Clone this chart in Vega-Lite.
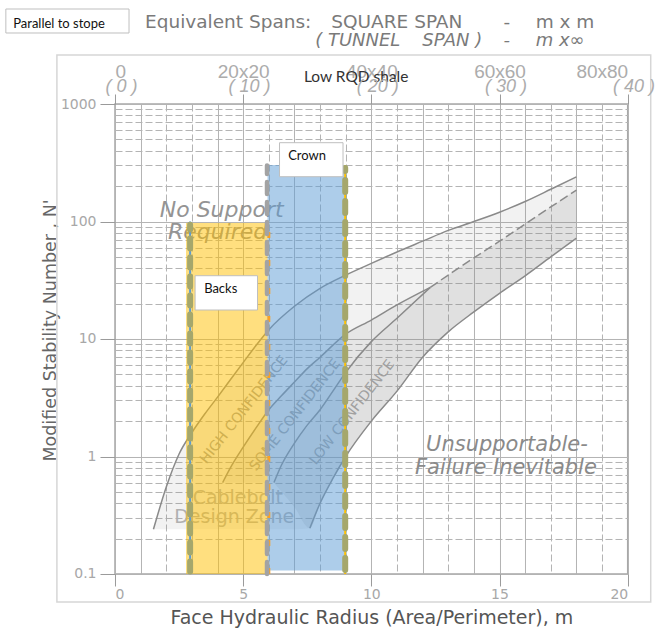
{
  "$schema": "https://vega.github.io/schema/vega-lite/v6.json",
  "width": 512.7,
  "height": 470,
  "autosize": {"type": "none"},
  "padding": {"left": 115, "top": 104, "right": 30, "bottom": 63},
  "background": "white",
  "config": {"view": {"stroke": "#a8a8a8", "strokeWidth": 1.5}, "font": "Liberation Sans"},
  "encoding": {
    "x": {"field": "hr", "type": "quantitative", "scale": {"domain": [0, 20], "nice": false, "zero": false}, "axis": null},
    "y": {"field": "n", "type": "quantitative", "scale": {"type": "log", "domain": [0.1, 1000], "nice": false}, "axis": null}
  },
  "resolve": {"axis": {"x": "independent", "y": "independent"}},
  "layer": [
    {
      "data": {"values": [{"hr": -2.266, "hr2": 20.898, "n": 2612, "n2": 0.0578}]},
      "mark": {"type": "rect", "fillOpacity": 0, "stroke": "#d6d6d6", "strokeWidth": 1.5},
      "encoding": {"x2": {"field": "hr2"}, "y2": {"field": "n2"}}
    },
    {
      "data": {"values": [
        {"hr": 1.5, "n": 0.24, "n2": 0.24}, {"hr": 2, "n": 0.55, "n2": 0.24}, {"hr": 2.5, "n": 1.05, "n2": 0.24},
        {"hr": 3, "n": 1.6, "n2": 0.24}, {"hr": 3.5, "n": 2.3, "n2": 0.24}, {"hr": 4, "n": 3.2, "n2": 0.24},
        {"hr": 4.5, "n": 4.5, "n2": 0.24}, {"hr": 5, "n": 6.3, "n2": 0.24}, {"hr": 5.5, "n": 8.8, "n2": 0.24},
        {"hr": 6, "n": 12, "n2": 0.24}, {"hr": 7, "n": 19, "n2": 0.24}, {"hr": 7.6, "n": 23.5, "n2": 0.245},
        {"hr": 8, "n": 27, "n2": 0.4}, {"hr": 8.5, "n": 31, "n2": 0.65}, {"hr": 9, "n": 35, "n2": 1.0},
        {"hr": 10, "n": 44, "n2": 2.0}, {"hr": 11, "n": 55, "n2": 3.6}, {"hr": 12, "n": 68, "n2": 7},
        {"hr": 13, "n": 84, "n2": 11.5}, {"hr": 14, "n": 100, "n2": 17}, {"hr": 15, "n": 120, "n2": 24.5},
        {"hr": 16, "n": 148, "n2": 34.5}, {"hr": 17, "n": 188, "n2": 50}, {"hr": 18, "n": 240, "n2": 72}
      ]},
      "mark": {"type": "area", "color": "#808080", "opacity": 0.1, "interpolate": "monotone"},
      "encoding": {
        "x": {"field": "hr", "type": "quantitative", "scale": {"domain": [0, 20], "nice": false, "zero": false},
          "axis": {
            "orient": "bottom",
            "values": [0, 1, 2, 3, 4, 5, 6, 7, 8, 9, 10, 11, 12, 13, 14, 15, 16, 17, 18, 19, 20],
            "grid": true, "gridColor": "#b4b4b4", "gridWidth": 1,
            "gridDash": {"condition": {"test": "indexof([0,1,4,5,7,10,12,14,15,16,18,20], datum.value) >= 0", "value": []}, "value": [7, 3]},
            "tickOpacity": {"condition": {"test": "datum.value % 5 == 0", "value": 1}, "value": 0},
            "labelExpr": "datum.value % 5 == 0 ? datum.label : ''",
            "labelOverlap": false, "labelFont": "DejaVu Sans", "labelFontSize": 14, "labelColor": "#a8a8a8", "labelPadding": 2,
            "tickSize": 12, "tickColor": "#9a9a9a", "domain": false,
            "title": "Face Hydraulic Radius (Area/Perimeter), m", "titleFont": "DejaVu Sans", "titleFontSize": 19,
            "titleFontWeight": "normal", "titleColor": "#555555", "titlePadding": 7
          }
        },
        "y": {"field": "n", "type": "quantitative", "scale": {"type": "log", "domain": [0.1, 1000], "nice": false},
          "axis": {
            "orient": "left",
            "values": [0.1, 0.2, 0.3, 0.4, 0.5, 0.6, 0.7, 0.8, 0.9, 1, 2, 3, 4, 5, 6, 7, 8, 9, 10, 20, 30, 40, 50, 60, 70, 80, 90, 100, 200, 300, 400, 500, 600, 700, 800, 900, 1000],
            "grid": true, "gridColor": "#b4b4b4", "gridWidth": 1,
            "gridDash": {"condition": {"test": "datum.value == 0.1 || datum.value == 1 || datum.value == 10 || datum.value == 100 || datum.value == 1000", "value": []}, "value": [7, 3]},
            "tickOpacity": {"condition": {"test": "datum.value == 0.1 || datum.value == 1 || datum.value == 10 || datum.value == 100 || datum.value == 1000", "value": 1}, "value": 0},
            "labelExpr": "(datum.value == 0.1 || datum.value == 1 || datum.value == 10 || datum.value == 100 || datum.value == 1000) ? format(datum.value, '~g') : ''",
            "labelOverlap": false, "labelFont": "DejaVu Sans", "labelFontSize": 14, "labelColor": "#a8a8a8", "labelPadding": 4,
            "tickSize": 15, "tickColor": "#9a9a9a", "domain": false,
            "title": "Modified Stability Number , N'", "titleFont": "DejaVu Sans", "titleFontSize": 17.5,
            "titleFontWeight": "normal", "titleColor": "#666666", "titlePadding": 1, "titleY": 226
          }
        },
        "y2": {"field": "n2"}
      }
    },
    {
      "data": {"values": [
        {"hr": 4.2, "n": 0.6, "n2": 0.6}, {"hr": 5, "n": 1.2, "n2": 0.6}, {"hr": 6, "n": 2.5, "n2": 0.6},
        {"hr": 6.2, "n": 2.8, "n2": 0.6}, {"hr": 6.5, "n": 3.3, "n2": 0.85}, {"hr": 7, "n": 4.3, "n2": 1.3},
        {"hr": 7.5, "n": 5.6, "n2": 1.85}, {"hr": 8, "n": 7, "n2": 2.5}, {"hr": 9, "n": 11, "n2": 5.2},
        {"hr": 10, "n": 14.5, "n2": 9.5}, {"hr": 11, "n": 19.5, "n2": 15}, {"hr": 12.3, "n": 27.5, "n2": 27.5}
      ]},
      "mark": {"type": "area", "color": "#808080", "opacity": 0.1, "interpolate": "monotone"},
      "encoding": {"y2": {"field": "n2"}}
    },
    {
      "data": {"values": [
        {"hr": 6.2, "n": 0.6, "n2": 0.6}, {"hr": 6.5, "n": 0.85, "n2": 0.5}, {"hr": 7, "n": 1.3, "n2": 0.37},
        {"hr": 7.6, "n": 1.9, "n2": 0.245}, {"hr": 8, "n": 2.5, "n2": 0.4}, {"hr": 8.5, "n": 3.6, "n2": 0.65},
        {"hr": 9, "n": 5.2, "n2": 1.0}, {"hr": 10, "n": 9.5, "n2": 2.0}, {"hr": 11, "n": 15, "n2": 3.6},
        {"hr": 12, "n": 23.5, "n2": 7}, {"hr": 12.3, "n": 27.5, "n2": 8}, {"hr": 13, "n": 35, "n2": 11.5},
        {"hr": 14, "n": 49, "n2": 17}, {"hr": 15, "n": 68, "n2": 24.5}, {"hr": 16, "n": 95, "n2": 34.5},
        {"hr": 17, "n": 133, "n2": 50}, {"hr": 18, "n": 185, "n2": 72}
      ]},
      "mark": {"type": "area", "color": "#808080", "opacity": 0.16, "interpolate": "monotone"},
      "encoding": {"y2": {"field": "n2"}}
    },
    {
      "data": {"values": [
        {"curve": "A", "hr": 1.5, "n": 0.24}, {"curve": "A", "hr": 2, "n": 0.55}, {"curve": "A", "hr": 2.5, "n": 1.05},
        {"curve": "A", "hr": 3, "n": 1.6}, {"curve": "A", "hr": 3.5, "n": 2.3}, {"curve": "A", "hr": 4, "n": 3.2},
        {"curve": "A", "hr": 4.5, "n": 4.5}, {"curve": "A", "hr": 5, "n": 6.3}, {"curve": "A", "hr": 5.5, "n": 8.8},
        {"curve": "A", "hr": 6, "n": 12}, {"curve": "A", "hr": 7, "n": 19}, {"curve": "A", "hr": 8, "n": 27},
        {"curve": "A", "hr": 9, "n": 35}, {"curve": "A", "hr": 10, "n": 44}, {"curve": "A", "hr": 11, "n": 55},
        {"curve": "A", "hr": 12, "n": 68}, {"curve": "A", "hr": 13, "n": 84}, {"curve": "A", "hr": 14, "n": 100},
        {"curve": "A", "hr": 15, "n": 120}, {"curve": "A", "hr": 16, "n": 148}, {"curve": "A", "hr": 17, "n": 188},
        {"curve": "A", "hr": 18, "n": 240},
        {"curve": "B", "hr": 4.2, "n": 0.6}, {"curve": "B", "hr": 4.5, "n": 0.8}, {"curve": "B", "hr": 5, "n": 1.2},
        {"curve": "B", "hr": 5.5, "n": 1.75}, {"curve": "B", "hr": 6, "n": 2.5}, {"curve": "B", "hr": 6.5, "n": 3.3},
        {"curve": "B", "hr": 7, "n": 4.3}, {"curve": "B", "hr": 7.5, "n": 5.6}, {"curve": "B", "hr": 8, "n": 7},
        {"curve": "B", "hr": 9, "n": 11}, {"curve": "B", "hr": 10, "n": 14.5}, {"curve": "B", "hr": 11, "n": 19.5},
        {"curve": "B", "hr": 12.3, "n": 27.5},
        {"curve": "C", "hr": 6.2, "n": 0.6}, {"curve": "C", "hr": 6.5, "n": 0.85}, {"curve": "C", "hr": 7, "n": 1.3},
        {"curve": "C", "hr": 7.5, "n": 1.85}, {"curve": "C", "hr": 8, "n": 2.5}, {"curve": "C", "hr": 8.5, "n": 3.6},
        {"curve": "C", "hr": 9, "n": 5.2}, {"curve": "C", "hr": 10, "n": 9.5}, {"curve": "C", "hr": 11, "n": 15},
        {"curve": "C", "hr": 12.3, "n": 27.5},
        {"curve": "D", "hr": 7.6, "n": 0.245}, {"curve": "D", "hr": 8, "n": 0.4}, {"curve": "D", "hr": 8.5, "n": 0.65},
        {"curve": "D", "hr": 9, "n": 1.0}, {"curve": "D", "hr": 10, "n": 2.0}, {"curve": "D", "hr": 11, "n": 3.6},
        {"curve": "D", "hr": 12, "n": 7}, {"curve": "D", "hr": 13, "n": 11.5}, {"curve": "D", "hr": 14, "n": 17},
        {"curve": "D", "hr": 15, "n": 24.5}, {"curve": "D", "hr": 16, "n": 34.5}, {"curve": "D", "hr": 17, "n": 50},
        {"curve": "D", "hr": 18, "n": 72}
      ]},
      "mark": {"type": "line", "color": "#8a8a8a", "strokeWidth": 1.5, "interpolate": "monotone"},
      "encoding": {"detail": {"field": "curve", "type": "nominal"}}
    },
    {
      "data": {"values": [
        {"hr": 12.3, "n": 27.5}, {"hr": 13, "n": 35}, {"hr": 14, "n": 49}, {"hr": 15, "n": 68},
        {"hr": 16, "n": 95}, {"hr": 17, "n": 133}, {"hr": 18, "n": 185}
      ]},
      "mark": {"type": "line", "color": "#8a8a8a", "strokeWidth": 1.5, "strokeDash": [9, 4], "interpolate": "monotone"},
      "encoding": {}
    },
    {
      "data": {"values": [
        {"hr": 4.16, "n": 125, "label": "No Support"},
        {"hr": 4.0, "n": 81.5, "label": "Required"}
      ]},
      "mark": {"type": "text", "font": "DejaVu Sans", "fontSize": 22, "fontStyle": "italic", "color": "#949494", "align": "center", "baseline": "middle"},
      "encoding": {"text": {"field": "label"}}
    },
    {
      "data": {"values": [
        {"hr": 15.29, "n": 1.25, "label": "Unsupportable-"},
        {"hr": 15.25, "n": 0.8, "label": "Failure Inevitable"}
      ]},
      "mark": {"type": "text", "font": "DejaVu Sans", "fontSize": 21, "fontStyle": "italic", "color": "#8a8a8a", "align": "center", "baseline": "middle"},
      "encoding": {"text": {"field": "label"}}
    },
    {
      "data": {"values": [
        {"hr": 5.04, "n": 2.49, "label": "HIGH CONFIDENCE"},
        {"hr": 7.03, "n": 2.25, "label": "SOME CONFIDENCE"},
        {"hr": 9.25, "n": 2.37, "label": "LOW CONFIDENCE"}
      ]},
      "mark": {"type": "text", "font": "DejaVu Sans", "fontSize": 14, "angle": -52, "color": "#a0a0a0", "align": "center", "baseline": "middle"},
      "encoding": {"text": {"field": "label"}}
    },
    {
      "data": {"values": [
        {"hr": 4.79, "n": 0.443, "label": "Cablebolt"},
        {"hr": 4.65, "n": 0.305, "label": "Design Zone"}
      ]},
      "mark": {"type": "text", "font": "DejaVu Sans", "fontSize": 19, "color": "#b0b0b0", "align": "center", "baseline": "middle"},
      "encoding": {"text": {"field": "label"}}
    },
    {
      "data": {"values": [{"hr": 2.77, "hr2": 5.95, "n": 0.1, "n2": 97}]},
      "mark": {"type": "rect", "color": "#FFC000", "opacity": 0.5},
      "encoding": {"x2": {"field": "hr2"}, "y2": {"field": "n2"}}
    },
    {
      "data": {"values": [{"hr": 5.95, "hr2": 9.05, "n": 0.107, "n2": 303}]},
      "mark": {"type": "rect", "color": "#5B9BD5", "opacity": 0.5},
      "encoding": {"x2": {"field": "hr2"}, "y2": {"field": "n2"}}
    },
    {
      "data": {"values": [{"hr": 2.93, "n": 0.1, "n2": 100}]},
      "mark": {"type": "rule", "color": "#5B9BD5", "strokeWidth": 2},
      "encoding": {"y2": {"field": "n2"}}
    },
    {
      "data": {"values": [{"hr": 2.93, "n": 0.105, "n2": 94}]},
      "mark": {"type": "rule", "color": "#A5A76C", "strokeWidth": 6, "strokeDash": [10, 9], "strokeCap": "round"},
      "encoding": {"y2": {"field": "n2"}}
    },
    {
      "data": {"values": [{"hr": 6.0, "n": 0.1, "n2": 97}]},
      "mark": {"type": "rule", "color": "#F7A128", "strokeWidth": 3, "strokeDash": [6, 22]},
      "encoding": {"y2": {"field": "n2"}}
    },
    {
      "data": {"values": [{"hr": 5.93, "n": 0.1, "n2": 300}]},
      "mark": {"type": "rule", "color": "#A3A3A3", "strokeWidth": 4.5, "strokeDash": [12, 8], "strokeCap": "round"},
      "encoding": {"y2": {"field": "n2"}}
    },
    {
      "data": {"values": [{"hr": 8.98, "n": 0.1, "n2": 303}]},
      "mark": {"type": "rule", "color": "#FFC000", "strokeWidth": 2},
      "encoding": {"y2": {"field": "n2"}}
    },
    {
      "data": {"values": [{"hr": 8.98, "n": 0.108, "n2": 285}]},
      "mark": {"type": "rule", "color": "#A5A76C", "strokeWidth": 6, "strokeDash": [12, 9], "strokeCap": "round"},
      "encoding": {"y2": {"field": "n2"}}
    },
    {
      "data": {"values": [
        {"hr": -4.258, "hr2": 0.547, "n": 6434, "n2": 4021},
        {"hr": 6.418, "hr2": 8.895, "n": 468.5, "n2": 240.6},
        {"hr": 3.125, "hr2": 5.559, "n": 34.57, "n2": 17.65}
      ]},
      "mark": {"type": "rect", "fill": "white", "stroke": "#bfbfbf", "strokeWidth": 1},
      "encoding": {"x2": {"field": "hr2"}, "y2": {"field": "n2"}}
    },
    {
      "data": {"values": [
        {"hr": -3.97, "n": 4798, "label": "Parallel to stope"},
        {"hr": 6.758, "n": 360.9, "label": "Crown"},
        {"hr": 3.477, "n": 26.5, "label": "Backs"}
      ]},
      "mark": {"type": "text", "font": "Lato", "fontSize": 13, "color": "#111111", "align": "left", "baseline": "middle"},
      "encoding": {"text": {"field": "label"}}
    },
    {
      "data": {"values": [{"hr": 9.41, "n": 1697, "label": "Low RQD shale"}]},
      "mark": {"type": "text", "font": "Lato", "fontSize": 15.5, "color": "#333333", "align": "center", "baseline": "middle"},
      "encoding": {"text": {"field": "label"}}
    },
    {
      "data": {"values": [
        {"hr": 1.172, "n": 4990, "label": "Equivalent Spans:"},
        {"hr": 8.438, "n": 4990, "label": "SQUARE SPAN"},
        {"hr": 15.16, "n": 4990, "label": "-"},
        {"hr": 16.41, "n": 4990, "label": "m x m"}
      ]},
      "mark": {"type": "text", "font": "DejaVu Sans", "fontSize": 18.5, "color": "#7a7a7a", "align": "left", "baseline": "middle"},
      "encoding": {"text": {"field": "label"}}
    },
    {
      "data": {"values": [
        {"hr": 7.81, "n": 3404, "label": "( TUNNEL"},
        {"hr": 11.99, "n": 3404, "label": "SPAN )"},
        {"hr": 15.16, "n": 3404, "label": "-"},
        {"hr": 16.41, "n": 3404, "label": "m x∞"}
      ]},
      "mark": {"type": "text", "font": "DejaVu Sans", "fontSize": 18, "fontStyle": "italic", "color": "#7a7a7a", "align": "left", "baseline": "middle"},
      "encoding": {"text": {"field": "label"}}
    },
    {
      "data": {"values": [
        {"hr": 0.25, "n": 1395, "label": "( 0 )"},
        {"hr": 5.25, "n": 1395, "label": "( 10 )"},
        {"hr": 10.25, "n": 1395, "label": "( 20 )"},
        {"hr": 15.25, "n": 1395, "label": "( 30 )"},
        {"hr": 20.25, "n": 1395, "label": "( 40 )"}
      ]},
      "mark": {"type": "text", "font": "Liberation Sans Narrow, Liberation Sans", "fontSize": 18, "fontStyle": "italic", "color": "#acacac", "align": "center", "baseline": "middle"},
      "encoding": {
        "x": {"field": "hr", "type": "quantitative", "scale": {"domain": [0, 20], "nice": false, "zero": false},
          "axis": {
            "orient": "top", "values": [0, 5, 10, 15, 20],
            "labelExpr": "datum.value == 0 ? '0' : (datum.value * 4) + 'x' + (datum.value * 4)",
            "grid": false, "domain": false, "tickSize": 10, "tickColor": "#9a9a9a",
            "labelFont": "Liberation Sans Narrow, Liberation Sans", "labelFontSize": 19, "labelColor": "#acacac",
            "labelPadding": 13, "labelOverlap": false, "title": null
          }
        },
        "text": {"field": "label"}
      }
    }
  ]
}
